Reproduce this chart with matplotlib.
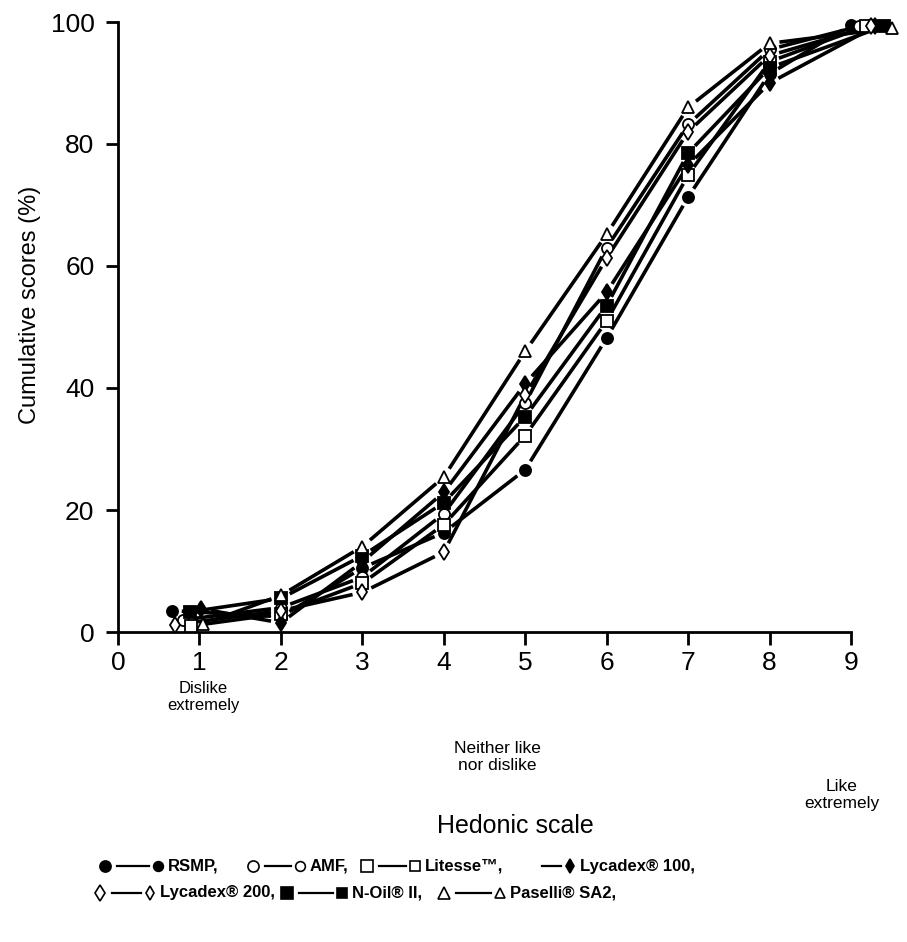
import matplotlib
matplotlib.use("Agg")
import matplotlib.pyplot as plt
from matplotlib.lines import Line2D
import numpy as np

# hedonic scale points 1..9
hedonic = [1, 2, 3, 4, 5, 6, 7, 8, 9]

names = ["RSMP", "AMF", "Litesse", "Lycadex 100", "Lycadex 200", "N-Oil II", "Paselli SA2"]

# cumulative scores (%)
rsmp = [3.5, 2.5, 10.5, 16.3, 26.6, 48.2, 71.3, 91.5, 99.5]
amf = [2.0, 4.0, 9.0, 19.4, 37.5, 63.0, 83.2, 95.5, 99.3]
litesse = [1.0, 3.0, 8.0, 17.6, 32.2, 51.0, 74.9, 93.5, 99.3]
lycadex100 = [3.8, 1.5, 11.5, 22.9, 40.7, 55.7, 76.5, 90.0, 99.3]
lycadex200 = [1.2, 3.5, 6.5, 13.1, 38.8, 61.3, 82.0, 94.5, 99.3]
noil = [3.3, 5.5, 12.5, 21.2, 35.3, 53.5, 78.5, 92.5, 99.3]
paselli = [1.3, 6.0, 14.0, 25.4, 46.0, 65.2, 86.0, 96.5, 99.0]

# markers at the two ends of the scale are set side by side in the original
shift_first = [-0.34, -0.2, -0.1, 0.02, -0.3, -0.12, 0.04]
shift_last = [0.0, 0.1, 0.18, 0.3, 0.24, 0.4, 0.5]

series = [rsmp, amf, litesse, lycadex100, lycadex200, noil, paselli]
styles = [("o", "black"), ("o", "white"), ("s", "white"), ("d", "black"),
          ("d", "white"), ("s", "black"), ("^", "white")]

W, H = 907, 942
fig = plt.figure(figsize=(W / 100, H / 100), dpi=100)
ax = fig.add_axes([118 / W, 1 - 632 / H, 790 / W, 610 / H])
ax.set_xlim(0, 9.7)
ax.set_ylim(0, 100)

for s in ["top", "right"]:
    ax.spines[s].set_visible(False)
ax.spines["left"].set_linewidth(2)
ax.spines["bottom"].set_linewidth(2)
ax.spines["bottom"].set_bounds(0, 9)

ax.set_xticks(range(10))
ax.set_yticks([0, 20, 40, 60, 80, 100])
ax.tick_params(axis="both", width=2, length=9, labelsize=19, pad=8)
ax.tick_params(axis="x", pad=5)
for lab in ax.get_xticklabels() + ax.get_yticklabels():
    lab.set_fontfamily("Liberation Sans")

fig.text(30 / W, 1 - 305 / H, "Cumulative scores (%)", rotation=90, ha="center",
         va="center", fontsize=17, family="Liberation Sans")

fig.canvas.draw()
tr = ax.transData
gap = 10

for vals, (m, fc), d0, d1 in zip(series, styles, shift_first, shift_last):
    xs = list(hedonic)
    xs[0] = xs[0] + d0
    xs[-1] = xs[-1] + d1
    pts = tr.transform(np.column_stack([xs, vals]))
    for i in range(len(pts) - 1):
        a, b = pts[i], pts[i + 1]
        v = b - a
        L = np.hypot(*v)
        if L < 2 * gap + 2:
            continue
        u = v / L
        seg = tr.inverted().transform([a + u * gap, b - u * gap])
        ax.plot(seg[:, 0], seg[:, 1], color="black", lw=2.6, solid_capstyle="butt")
    ax.plot(xs, vals, linestyle="none", marker=m, ms=8, mfc=fc, mec="black",
            mew=1.3, clip_on=False, zorder=3)

fig.text(203 / W, 1 - 697 / H, "Dislike\nextremely", ha="center", va="center",
         fontsize=12, family="Liberation Sans", linespacing=1.2)
fig.text(497 / W, 1 - 757 / H, "Neither like\nnor dislike", ha="center", va="center",
         fontsize=12.5, family="Liberation Sans", linespacing=1.2)
fig.text(842 / W, 1 - 795 / H, "Like\nextremely", ha="center", va="center",
         fontsize=12.5, family="Liberation Sans", linespacing=1.2)
fig.text(515 / W, 1 - 826 / H, "Hedonic scale", ha="center", va="center",
         fontsize=18, family="Liberation Sans")

# legend drawn as text rows, like the original caption
legend_rows = [
    [(0, 105, 158, "RSMP,"), (1, 253, 300, "AMF,"), (2, 367, 415, "Litesse\u2122,"),
     (3, None, 570, "Lycadex\u00ae 100,")],
    [(4, 100, 150, "Lycadex\u00ae 200,"), (5, 287, 342, "N-Oil\u00ae II,"),
     (6, 444, 500, "Paselli\u00ae SA2,")],
]
row_y = [866, 893]
for row, y in zip(legend_rows, row_y):
    fy = 1 - y / H
    for idx, x0, x1, label in row:
        m, fc = styles[idx]
        start = x0 if x0 is not None else x1 - 40
        fig.add_artist(Line2D([(start + 12) / W, (x1 - 9) / W], [fy, fy],
                              color="black", lw=1.6, transform=fig.transFigure))
        if x0 is not None:
            fig.add_artist(Line2D([x0 / W], [fy], marker=m, ms=8, mfc=fc, mec="black",
                                  mew=1.2, transform=fig.transFigure))
        fig.add_artist(Line2D([x1 / W], [fy], marker=m, ms=7, mfc=fc, mec="black",
                              mew=1.2, transform=fig.transFigure))
        fig.text((x1 + 10) / W, fy, label, ha="left", va="center", fontsize=12,
                 fontweight="bold", family="Liberation Sans")

fig.savefig("out.png", dpi=100)
